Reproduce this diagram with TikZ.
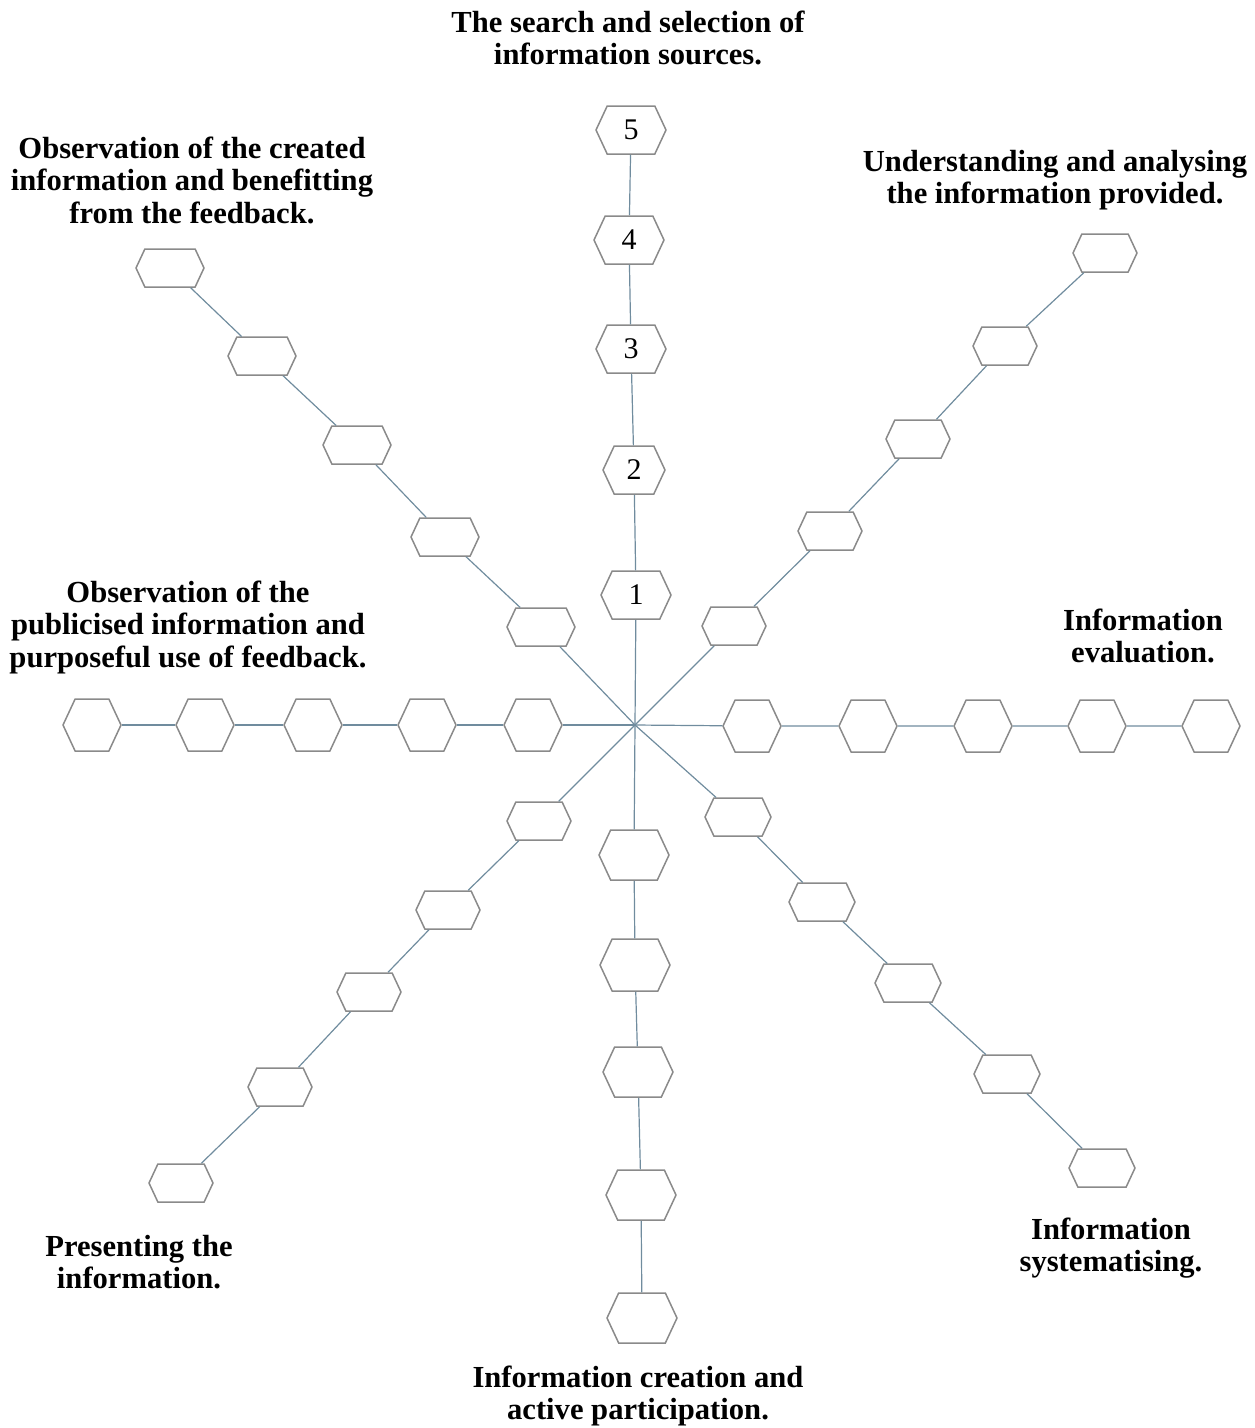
\documentclass[tikz,border=0pt]{standalone}
\usepackage{fontspec}
\setmainfont{Liberation Serif}
\usetikzlibrary{shapes.symbols}
\definecolor{spoke}{RGB}{112,140,158}
\definecolor{rim}{RGB}{138,138,138}

\begin{document}
\begin{tikzpicture}[x=1pt, y=-1pt,
	hexa/.style={draw=rim, line width=1.5pt, fill=white, signal, signal to=east and west,
		signal pointer angle=130, inner sep=0pt, minimum width=#1, font=\fontsize{30}{30}\selectfont},
	hexa/.default={68pt},
	flat/.style={hexa=66pt, minimum height=38pt},
	tall/.style={hexa=70pt, minimum height=48pt},
	side/.style={hexa=58pt, minimum height=52pt},
	link/.style={draw=spoke, line width=1.2pt},
	lbl/.style={align=center, inner sep=0pt, font=\bfseries\fontsize{30.6}{32.5}\selectfont}]
				\useasboundingbox (0,0) rectangle (1255,1428);
				\coordinate (c) at (635, 725);
				% up
				\node[tall] (u1) at (636, 595) {1};
				\node[tall, minimum width=62pt] (u2) at (634, 470) {2};
				\node[tall] (u3) at (631, 349) {3};
				\node[tall] (u4) at (629, 240) {4};
				\node[tall] (u5) at (631, 130) {5};
				% down
				\node[tall, minimum height=50pt] (d1) at (634, 855) {};
				\node[tall, minimum height=52pt] (d2) at (635, 965) {};
				\node[tall, minimum height=50pt] (d3) at (638, 1072) {};
				\node[tall, minimum height=50pt] (d4) at (641, 1195) {};
				\node[tall, minimum height=50pt] (d5) at (642, 1318) {};
				% right
				\node[side] (r1) at (752, 726) {};
				\node[side] (r2) at (868, 726) {};
				\node[side] (r3) at (983, 726) {};
				\node[side] (r4) at (1097, 726) {};
				\node[side] (r5) at (1211, 726) {};
				% left
				\node[side] (l1) at (533, 725) {};
				\node[side] (l2) at (427, 725) {};
				\node[side] (l3) at (313, 725) {};
				\node[side] (l4) at (205, 725) {};
				\node[side] (l5) at (92, 725) {};
				% upper left
				\node[flat, minimum width=68pt] (ul1) at (541, 627) {};
				\node[flat, minimum width=68pt] (ul2) at (445, 537) {};
				\node[flat, minimum width=68pt] (ul3) at (357, 445) {};
				\node[flat, minimum width=68pt] (ul4) at (262, 356) {};
				\node[flat, minimum width=68pt] (ul5) at (170, 268) {};
				% upper right
				\node[flat, minimum width=64pt] (ur1) at (734, 626) {};
				\node[flat, minimum width=64pt] (ur2) at (830, 531) {};
				\node[flat, minimum width=64pt] (ur3) at (918, 439) {};
				\node[flat, minimum width=64pt] (ur4) at (1005, 346) {};
				\node[flat, minimum width=64pt] (ur5) at (1105, 253) {};
				% lower left
				\node[flat, minimum width=64pt] (ll1) at (539, 821) {};
				\node[flat, minimum width=64pt] (ll2) at (448, 910) {};
				\node[flat, minimum width=64pt] (ll3) at (369, 992) {};
				\node[flat, minimum width=64pt] (ll4) at (280, 1087) {};
				\node[flat, minimum width=64pt] (ll5) at (181, 1183) {};
				% lower right
				\node[flat] (lr1) at (738, 817) {};
				\node[flat] (lr2) at (822, 902) {};
				\node[flat] (lr3) at (908, 983) {};
				\node[flat] (lr4) at (1007, 1074) {};
				\node[flat] (lr5) at (1102, 1168) {};
				% spokes
				\draw[link] (c) -- (u1) (u1) -- (u2) (u2) -- (u3) (u3) -- (u4) (u4) -- (u5);
				\draw[link] (c) -- (d1) (d1) -- (d2) (d2) -- (d3) (d3) -- (d4) (d4) -- (d5);
				\draw[link] (c) -- (r1) (r1) -- (r2) (r2) -- (r3) (r3) -- (r4) (r4) -- (r5);
				\draw[link] (c) -- (l1) (l1) -- (l2) (l2) -- (l3) (l3) -- (l4) (l4) -- (l5);
				\draw[link] (c) -- (ul1) (ul1) -- (ul2) (ul2) -- (ul3) (ul3) -- (ul4) (ul4) -- (ul5);
				\draw[link] (c) -- (ur1) (ur1) -- (ur2) (ur2) -- (ur3) (ur3) -- (ur4) (ur4) -- (ur5);
				\draw[link] (c) -- (ll1) (ll1) -- (ll2) (ll2) -- (ll3) (ll3) -- (ll4) (ll4) -- (ll5);
				\draw[link] (c) -- (lr1) (lr1) -- (lr2) (lr2) -- (lr3) (lr3) -- (lr4) (lr4) -- (lr5);
				% labels
				\node[lbl] (tu) at (628, 38) {The search and selection of\\information sources.};
				\node[lbl] (tul) at (192, 180) {Observation of the created\\information and benefitting\\from the feedback.};
				\node[lbl] (tur) at (1055, 180) {Understanding and analysing\\the information provided.};
				\node[lbl] (tl) at (188, 627) {Observation of the\\publicised information and\\purposeful use of feedback.};
				\node[lbl] (tr) at (1143, 636) {Information\\evaluation.};
				\node[lbl] (tlr) at (1111, 1248) {Information\\systematising.};
				\node[lbl] (td) at (638, 1396) {Information creation and\\active participation.};
				\node[lbl] (tll) at (139, 1262) {Presenting the\\information.};
			\end{tikzpicture}
\end{document}
